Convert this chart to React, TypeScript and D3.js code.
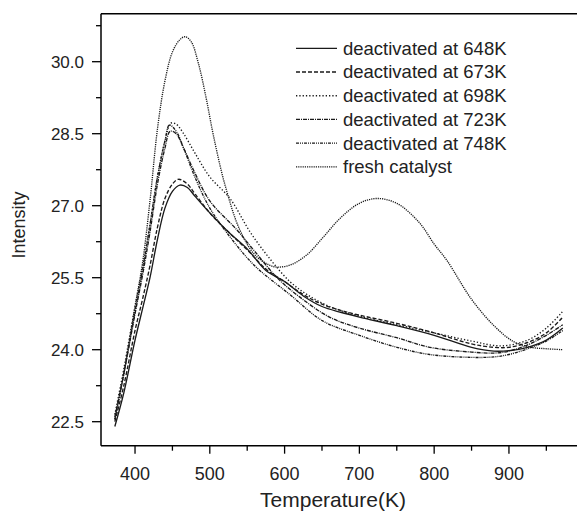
import React from "react";
import * as d3 from "d3";

// ---- data ----
const t648 = [373, 385, 400, 410, 420, 430, 440, 450, 460, 470, 480, 500, 525, 550, 575, 600, 625, 650, 675, 700, 750, 800, 850, 880, 900, 925, 950, 972];
const v648 = [22.4, 23.1, 24.2, 24.85, 25.5, 26.3, 26.95, 27.3, 27.43, 27.38, 27.2, 26.85, 26.45, 26.1, 25.65, 25.42, 25.12, 24.9, 24.78, 24.68, 24.5, 24.3, 24.05, 23.97, 23.98, 24.05, 24.2, 24.45];

const t673 = [373, 385, 400, 410, 420, 430, 440, 450, 458, 470, 480, 500, 525, 550, 575, 600, 625, 650, 675, 700, 750, 800, 850, 880, 900, 925, 950, 972];
const v673 = [22.5, 23.25, 24.4, 25.05, 25.75, 26.55, 27.15, 27.45, 27.55, 27.45, 27.25, 26.85, 26.45, 26.08, 25.68, 25.42, 25.15, 24.95, 24.82, 24.72, 24.55, 24.35, 24.12, 24.05, 24.05, 24.15, 24.35, 24.68];

const t698 = [373, 385, 400, 410, 420, 430, 440, 448, 455, 465, 480, 500, 527, 554, 580, 607, 630, 660, 700, 750, 800, 850, 890, 925, 950, 972];
const v698 = [22.65, 23.6, 24.9, 25.7, 26.6, 27.6, 28.35, 28.72, 28.7, 28.5, 28.1, 27.6, 27.15, 26.45, 25.9, 25.42, 25.15, 24.9, 24.7, 24.52, 24.35, 24.18, 24.08, 24.2, 24.45, 24.8];

const t723 = [373, 385, 400, 410, 420, 430, 440, 447, 455, 465, 478, 500, 536, 560, 590, 620, 660, 700, 750, 794, 850, 880, 900, 925, 950, 972];
const v723 = [22.6, 23.5, 24.75, 25.55, 26.45, 27.45, 28.2, 28.55, 28.5, 28.2, 27.75, 27.1, 26.5, 26.05, 25.5, 25.1, 24.68, 24.45, 24.25, 24.05, 23.95, 23.93, 23.97, 24.1, 24.3, 24.52];

const t748 = [373, 385, 400, 410, 420, 430, 440, 446, 455, 465, 480, 500, 527, 560, 607, 651, 700, 750, 794, 850, 880, 900, 925, 950, 972];
const v748 = [22.55, 23.5, 24.8, 25.65, 26.6, 27.6, 28.35, 28.68, 28.55, 28.2, 27.6, 26.95, 26.35, 25.75, 25.15, 24.6, 24.3, 24.05, 23.9, 23.84, 23.85, 23.9, 24.02, 24.18, 24.4];

const tFresh = [373, 385, 400, 410, 420, 430, 440, 450, 460, 467, 475, 485, 495, 505, 520, 540, 560, 580, 592, 610, 630, 652, 675, 700, 723, 750, 780, 800, 817, 850, 880, 906, 930, 950, 972];
const vFresh = [22.55, 23.5, 24.9, 25.8, 27.1, 28.6, 29.6, 30.2, 30.46, 30.52, 30.42, 29.95, 29.25, 28.45, 27.45, 26.5, 25.98, 25.76, 25.72, 25.78, 25.98, 26.35, 26.75, 27.05, 27.15, 27.05, 26.65, 26.2, 25.86, 25.05, 24.5, 24.17, 24.05, 24.02, 24.0];

const seriesNames = ["deactivated at 648K", "deactivated at 673K", "deactivated at 698K", "deactivated at 723K", "deactivated at 748K", "fresh catalyst"];
const xTicks = [400, 500, 600, 700, 800, 900];
const xMinorTicks = [450, 550, 650, 750, 850, 950];
const yTicks = [22.5, 24.0, 25.5, 27.0, 28.5, 30.0];
const yMinorTicks = [23.25, 24.75, 26.25, 27.75, 29.25, 30.75];

const series = [
  { name: seriesNames[0], t: t648, v: v648, dash: "none" },
  { name: seriesNames[1], t: t673, v: v673, dash: "4,2" },
  { name: seriesNames[2], t: t698, v: v698, dash: "1.3,2" },
  { name: seriesNames[3], t: t723, v: v723, dash: "4,1,1,1" },
  { name: seriesNames[4], t: t748, v: v748, dash: "3,1,1,1,1,1" },
  { name: seriesNames[5], t: tFresh, v: vFresh, dash: "1.2,1" },
];

const W = 579, H = 513;
const L = 101, R = 577, T = 13.7, B = 445.7;
const FONT = "'Liberation Sans', Arial, sans-serif";

export default function App() {
  const x = d3.scaleLinear().domain([354.5, 991]).range([L, R]);
  const y = d3.scaleLinear().domain([22, 31]).range([B, T]);
  const line = d3
    .line<[number, number]>()
    .x((d) => x(d[0]))
    .y((d) => y(d[1]))
    .curve(d3.curveCatmullRom.alpha(0.5));

  const col = "#1a1a1a";
  return (
    <svg width={W} height={H} style={{ position: "fixed", left: 0, top: 0, background: "#fff" }} fontFamily={FONT}>
      <rect width={W} height={H} fill="#fff" />
      {/* curves */}
      {series.map((s) => (
        <path
          key={s.name}
          d={line(s.t.map((t, i) => [t, s.v[i]] as [number, number])) || ""}
          fill="none"
          stroke={col}
          strokeWidth={1.35}
          strokeDasharray={s.dash}
        />
      ))}
      {/* frame */}
      <line x1={L} x2={R} y1={T} y2={T} stroke="#000" strokeWidth={1.5} />
      <line x1={L} x2={L} y1={T} y2={B} stroke="#000" strokeWidth={1.5} />
      <line x1={L} x2={R} y1={B} y2={B} stroke="#000" strokeWidth={1.5} />
      {/* x ticks */}
      {xTicks.map((t) => (
        <g key={"x" + t}>
          <line x1={x(t)} x2={x(t)} y1={B} y2={B + 8} stroke="#000" strokeWidth={1.3} />
          <text x={x(t)} y={480} textAnchor="middle" fontSize={18} fill="#222">
            {t}
          </text>
        </g>
      ))}
      {xMinorTicks.map((t) => (
        <line key={"xm" + t} x1={x(t)} x2={x(t)} y1={B} y2={B + 5} stroke="#000" strokeWidth={1.3} />
      ))}
      {/* y ticks */}
      {yTicks.map((v) => (
        <g key={"y" + v}>
          <line x1={L - 9} x2={L} y1={y(v)} y2={y(v)} stroke="#000" strokeWidth={1.3} />
          <text x={84} y={y(v)} dy="0.35em" textAnchor="end" fontSize={17} fill="#222">
            {v.toFixed(1)}
          </text>
        </g>
      ))}
      {yMinorTicks.map((v) => (
        <line key={"ym" + v} x1={L - 5} x2={L} y1={y(v)} y2={y(v)} stroke="#000" strokeWidth={1.3} />
      ))}
      {/* axis titles */}
      <text x={333} y={507} textAnchor="middle" fontSize={21} fill="#222">
        Temperature(K)
      </text>
      <text transform={`translate(25,${225}) rotate(-90)`} textAnchor="middle" fontSize={18} fill="#222">
        Intensity
      </text>
      {/* legend */}
      {series.map((s, i) => {
        const yy = 48.3 + i * 23.7;
        return (
          <g key={"lg" + i}>
            <line x1={296} x2={337} y1={yy} y2={yy} stroke={col} strokeWidth={1.35} strokeDasharray={s.dash} />
            <text x={343} y={yy} dy="0.35em" fontSize={18.5} fill="#222">
              {s.name}
            </text>
          </g>
        );
      })}
    </svg>
  );
}
